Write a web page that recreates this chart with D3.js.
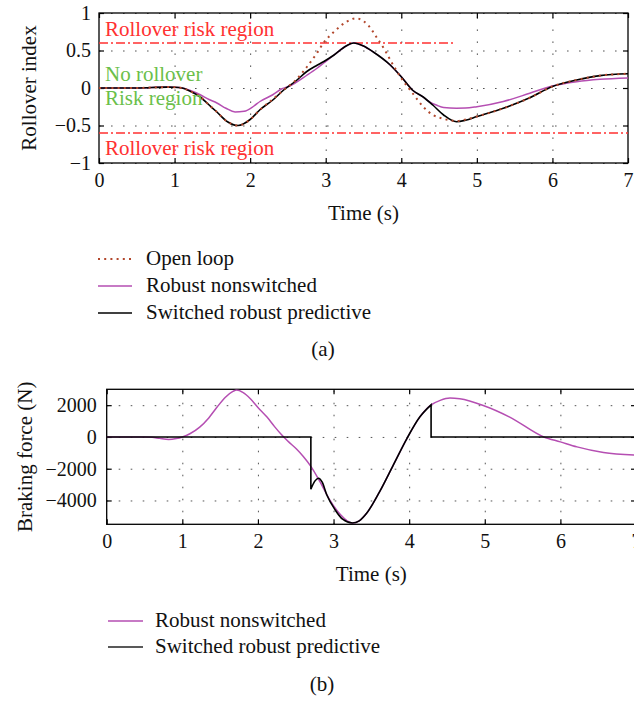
<!DOCTYPE html>
<html>
<head>
<meta charset="utf-8">
<script src="https://cdn.jsdelivr.net/npm/d3@7"></script>
<style>
  html, body { margin: 0; padding: 0; background: #fff; }
  svg { display: block; font-family: "Liberation Serif", "Times New Roman", serif; }
</style>
</head>
<body>
<svg id="fig" width="634" height="703"></svg>
<script>
// ---------- Panel (a): rollover index ----------
const openLoopTime = [0, 0.5, 0.9, 1.0, 1.1, 1.2, 1.34, 1.45, 1.56, 1.7, 1.84, 2.0, 2.13, 2.3, 2.44, 2.6, 2.75, 2.88, 2.97, 3.11, 3.27, 3.4, 3.5, 3.56, 3.67, 3.78, 3.89, 4.0, 4.15, 4.29, 4.42, 4.52, 4.64, 4.73, 4.85, 5.0, 5.35, 5.7, 6.0, 6.32, 6.63, 7.0];
const openLoopIndex = [0, 0, 0.012, 0.01, 0, -0.04, -0.12, -0.22, -0.32, -0.45, -0.5, -0.42, -0.29, -0.15, -0.03, 0.1, 0.28, 0.46, 0.6, 0.75, 0.88, 0.93, 0.89, 0.84, 0.68, 0.51, 0.31, 0.13, -0.07, -0.25, -0.36, -0.4, -0.43, -0.44, -0.42, -0.38, -0.27, -0.13, 0.02, 0.107, 0.165, 0.19];

const nonswitchedTime = [0, 0.5, 0.9, 1.0, 1.1, 1.2, 1.34, 1.45, 1.56, 1.68, 1.8, 1.92, 2.05, 2.13, 2.3, 2.42, 2.53, 2.75, 2.88, 2.97, 3.11, 3.27, 3.37, 3.5, 3.63, 3.85, 4.0, 4.15, 4.29, 4.38, 4.47, 4.56, 4.73, 4.85, 5.0, 5.35, 5.7, 6.0, 6.32, 6.63, 7.0];
const nonswitchedIndex = [0, 0, 0.012, 0.01, 0, -0.03, -0.09, -0.15, -0.2, -0.27, -0.32, -0.31, -0.24, -0.18, -0.09, -0.01, 0.03, 0.17, 0.26, 0.33, 0.44, 0.56, 0.6, 0.56, 0.48, 0.31, 0.15, -0.03, -0.12, -0.19, -0.23, -0.26, -0.27, -0.268, -0.25, -0.18, -0.07, 0.027, 0.084, 0.116, 0.135];

const switchedTime = [0, 0.5, 0.9, 1.0, 1.1, 1.2, 1.34, 1.45, 1.56, 1.7, 1.84, 2.0, 2.13, 2.3, 2.44, 2.6, 2.75, 2.88, 2.97, 3.11, 3.27, 3.37, 3.5, 3.63, 3.85, 4.0, 4.15, 4.29, 4.42, 4.56, 4.73, 4.85, 5.0, 5.35, 5.7, 6.0, 6.32, 6.63, 7.0];
const switchedIndex = [0, 0, 0.012, 0.01, 0, -0.04, -0.12, -0.22, -0.32, -0.45, -0.5, -0.42, -0.29, -0.16, -0.03, 0.09, 0.22, 0.3, 0.35, 0.44, 0.56, 0.6, 0.56, 0.48, 0.31, 0.15, -0.03, -0.12, -0.23, -0.36, -0.45, -0.43, -0.38, -0.27, -0.13, 0.02, 0.107, 0.165, 0.19];

const riskThreshold = [0.6, -0.6];
const upperThresholdEnd = 4.7;

const timeTicks = [0, 1, 2, 3, 4, 5, 6, 7];
const timeTickLabels = ["0", "1", "2", "3", "4", "5", "6", "7"];
const indexTicks = [-1, -0.5, 0, 0.5, 1];
const indexTickLabels = ["\u22121", "\u22120.5", "0", "0.5", "1"];

// ---------- Panel (b): braking force ----------
const forceNonswitchedTime = [0, 0.5, 0.6, 0.7, 0.82, 0.92, 1.0, 1.1, 1.23, 1.35, 1.46, 1.57, 1.67, 1.72, 1.8, 1.9, 2.0, 2.12, 2.22, 2.31, 2.4, 2.51, 2.6, 2.7, 2.82, 2.95, 3.09, 3.18, 3.25, 3.34, 3.44, 3.61, 3.79, 3.97, 4.14, 4.29, 4.41, 4.54, 4.67, 4.98, 5.33, 5.78, 6.0, 6.22, 6.57, 7.0];
const forceNonswitched = [0, 0, -20, -90, -160, -100, 0, 200, 620, 1200, 1880, 2500, 2870, 2950, 2800, 2400, 1860, 1250, 650, 150, -280, -760, -1230, -1850, -2810, -3960, -4890, -5280, -5420, -5280, -4790, -3440, -1770, -100, 1250, 2020, 2300, 2450, 2400, 1980, 1250, 0, -310, -625, -980, -1150];

// repeated times mark the switching instants (vertical jumps)
const forceSwitchedTime = [0, 2.7, 2.7, 2.75, 2.8, 2.85, 2.91, 3.02, 3.12, 3.25, 3.34, 3.44, 3.61, 3.79, 3.97, 4.14, 4.29, 4.29, 7.0];
const forceSwitched = [0, 0, -3290, -2800, -2600, -2850, -3640, -4580, -5180, -5420, -5280, -4790, -3440, -1770, -100, 1250, 2020, 0, 0];

const forceTicks = [-4000, -2000, 0, 2000];
const forceTickLabels = ["\u22124000", "\u22122000", "0", "2000"];

// ---------- legend entries ----------
const legendA = ["Open loop", "Robust nonswitched", "Switched robust predictive"];
const legendB = ["Robust nonswitched", "Switched robust predictive"];

// ---------- styles ----------
const TICK_FONT = 20;
const FONT = 21;
const C_OPEN = "#b2472c";
const C_NONSW = "#b54eb2";
const C_SW = "#000000";
const C_RED = "#ff3131";
const C_GREEN = "#6bbf4a";

const svg = d3.select("#fig");

function zip(ts, vs) { return ts.map((t, i) => [t, vs[i]]); }

// smooth path that keeps vertical jumps where a time value repeats
function jumpPath(points, x, y) {
  const segs = [];
  let cur = [];
  points.forEach((p, i) => {
    if (i > 0 && p[0] === points[i - 1][0]) { segs.push(cur); cur = []; }
    cur.push(p);
  });
  segs.push(cur);
  const gen = d3.line().x(d => x(d[0])).y(d => y(d[1])).curve(d3.curveMonotoneX);
  return segs.map((s, i) => {
    const d = s.length > 1 ? gen(s) : `M${x(s[0][0])},${y(s[0][1])}`;
    return i === 0 ? d : "L" + d.slice(1);
  }).join("");
}

function makePanel(o) {
  const g = svg.append("g");
  const x = d3.scaleLinear().domain([0, 7]).range([o.left, o.right]);
  const y = d3.scaleLinear().domain(o.yDomain).range([o.bottom, o.top]);
  const w = o.right - o.left, h = o.bottom - o.top;

  const clipId = "clip-" + o.id;
  svg.append("clipPath").attr("id", clipId)
    .append("rect").attr("x", o.left).attr("y", o.top).attr("width", w).attr("height", h);

  // dotted grid
  const grid = g.append("g").attr("class", "grid");
  grid.append("g").attr("transform", `translate(0,${o.bottom})`)
    .call(d3.axisBottom(x).tickValues(timeTicks.slice(1, -1)).tickSize(-h).tickFormat(""))
    .call(s => s.select(".domain").remove());
  grid.append("g").attr("transform", `translate(${o.left},0)`)
    .call(d3.axisLeft(y).tickValues(o.yTicks).tickSize(-w).tickFormat(""))
    .call(s => s.select(".domain").remove());
  grid.selectAll("line").attr("stroke", "#555").attr("stroke-width", 1)
    .attr("stroke-dasharray", "1.6,10.4");

  // axes with inward ticks on all four sides
  const ax = g.append("g");
  ax.append("g").attr("transform", `translate(0,${o.bottom})`)
    .call(d3.axisBottom(x).tickValues(timeTicks).tickSize(-5).tickPadding(10)
      .tickFormat((d, i) => timeTickLabels[i]));
  ax.append("g").attr("transform", `translate(0,${o.top})`)
    .call(d3.axisTop(x).tickValues(timeTicks).tickSize(-5).tickFormat(""));
  ax.append("g").attr("transform", `translate(${o.left},0)`)
    .call(d3.axisLeft(y).tickValues(o.yTicks).tickSize(-5).tickPadding(o.yPad)
      .tickFormat((d, i) => o.yLabels[i]));
  ax.append("g").attr("transform", `translate(${o.right},0)`)
    .call(d3.axisRight(y).tickValues(o.yTicks).tickSize(-5).tickFormat(""));
  ax.selectAll(".domain").remove();
  ax.selectAll(".tick line").attr("stroke", "#000").attr("stroke-width", 1.2);
  ax.selectAll("text").attr("font-size", TICK_FONT).attr("fill", "#111")
    .attr("font-family", "Liberation Serif, Times New Roman, serif");

  // frame
  g.append("rect").attr("x", o.left).attr("y", o.top).attr("width", w).attr("height", h)
    .attr("fill", "none").attr("stroke", "#000").attr("stroke-width", 1.3);

  // axis titles
  g.append("text").attr("x", (o.left + o.right) / 2).attr("y", o.bottom + 57)
    .attr("text-anchor", "middle").attr("font-size", FONT).attr("fill", "#111").text("Time (s)");
  g.append("text").attr("transform", `translate(${o.yTitleX},${(o.top + o.bottom) / 2}) rotate(-90)`)
    .attr("text-anchor", "middle").attr("font-size", FONT).attr("fill", "#111").text(o.yTitle);

  const plot = g.append("g").attr("clip-path", `url(#${clipId})`);
  return { x, y, plot, g };
}

// ---------- draw panel (a) ----------
const pa = makePanel({
  id: "a", left: 99, right: 628, top: 13, bottom: 163,
  yDomain: [-1, 1], yTicks: indexTicks, yLabels: indexTickLabels, yPad: 8,
  yTitle: "Rollover index", yTitleX: 36
});

// risk thresholds
pa.plot.append("line")
  .attr("x1", pa.x(0)).attr("x2", pa.x(upperThresholdEnd))
  .attr("y1", pa.y(riskThreshold[0])).attr("y2", pa.y(riskThreshold[0]))
  .attr("stroke", C_RED).attr("stroke-width", 1.5).attr("stroke-dasharray", "9,3,2,3");
pa.plot.append("line")
  .attr("x1", pa.x(0)).attr("x2", pa.x(7))
  .attr("y1", pa.y(riskThreshold[1])).attr("y2", pa.y(riskThreshold[1]))
  .attr("stroke", C_RED).attr("stroke-width", 1.5).attr("stroke-dasharray", "9,3,2,3");

const lineA = d3.line().x(d => pa.x(d[0])).y(d => pa.y(d[1])).curve(d3.curveMonotoneX);
pa.plot.append("path").attr("d", lineA(zip(nonswitchedTime, nonswitchedIndex)))
  .attr("fill", "none").attr("stroke", C_NONSW).attr("stroke-width", 1.5);
pa.plot.append("path").attr("d", lineA(zip(switchedTime, switchedIndex)))
  .attr("fill", "none").attr("stroke", C_SW).attr("stroke-width", 1.6);
pa.plot.append("path").attr("d", lineA(zip(openLoopTime, openLoopIndex)))
  .attr("fill", "none").attr("stroke", C_OPEN).attr("stroke-width", 2)
  .attr("stroke-dasharray", "2,4.2");

// region annotations
const tx = pa.x(0.08);
pa.g.append("text").attr("x", tx).attr("y", pa.y(riskThreshold[0]) - 7)
  .attr("font-size", FONT).attr("fill", C_RED).text("Rollover risk region");
pa.g.append("text").attr("x", tx).attr("y", pa.y(0) - 7)
  .attr("font-size", FONT).attr("fill", C_GREEN).text("No rollover");
pa.g.append("text").attr("x", tx).attr("y", pa.y(0) + 16.5)
  .attr("font-size", FONT).attr("fill", C_GREEN).text("Risk region");
pa.g.append("text").attr("x", tx).attr("y", pa.y(riskThreshold[1]) + 21.5)
  .attr("font-size", FONT).attr("fill", C_RED).text("Rollover risk region");

// legend (a)
const legA = svg.append("g");
const styleA = [
  { stroke: C_OPEN, width: 2, dash: "2,4.2" },
  { stroke: C_NONSW, width: 1.5, dash: null },
  { stroke: C_SW, width: 1.5, dash: null }
];
legendA.forEach((name, i) => {
  const yy = 259 + i * 27;
  legA.append("line").attr("x1", 98).attr("x2", 132).attr("y1", yy).attr("y2", yy)
    .attr("stroke", styleA[i].stroke).attr("stroke-width", styleA[i].width)
    .attr("stroke-dasharray", styleA[i].dash);
  legA.append("text").attr("x", 146).attr("y", yy + 5.5).attr("font-size", FONT)
    .attr("fill", "#111").text(name);
});
svg.append("text").attr("x", 323).attr("y", 356).attr("text-anchor", "middle")
  .attr("font-size", FONT).attr("fill", "#111").text("(a)");

// ---------- draw panel (b) ----------
const pb = makePanel({
  id: "b", left: 106.7, right: 636, top: 389.3, bottom: 524.3,
  yDomain: [-5500, 3000], yTicks: forceTicks, yLabels: forceTickLabels, yPad: 10,
  yTitle: "Braking force (N)", yTitleX: 32
});

const lineB = d3.line().x(d => pb.x(d[0])).y(d => pb.y(d[1])).curve(d3.curveMonotoneX);
pb.plot.append("path").attr("d", lineB(zip(forceNonswitchedTime, forceNonswitched)))
  .attr("fill", "none").attr("stroke", C_NONSW).attr("stroke-width", 1.5);
pb.plot.append("path").attr("d", jumpPath(zip(forceSwitchedTime, forceSwitched), pb.x, pb.y))
  .attr("fill", "none").attr("stroke", C_SW).attr("stroke-width", 1.6);

// legend (b)
const legB = svg.append("g");
const colorsB = [C_NONSW, "#222"];
legendB.forEach((name, i) => {
  const yy = 621 + i * 26;
  legB.append("line").attr("x1", 108).attr("x2", 143).attr("y1", yy).attr("y2", yy)
    .attr("stroke", colorsB[i]).attr("stroke-width", 1.5);
  legB.append("text").attr("x", 155).attr("y", yy + 5.5).attr("font-size", FONT)
    .attr("fill", "#111").text(name);
});
svg.append("text").attr("x", 322).attr("y", 691).attr("text-anchor", "middle")
  .attr("font-size", FONT).attr("fill", "#111").text("(b)");
</script>
</body>
</html>
